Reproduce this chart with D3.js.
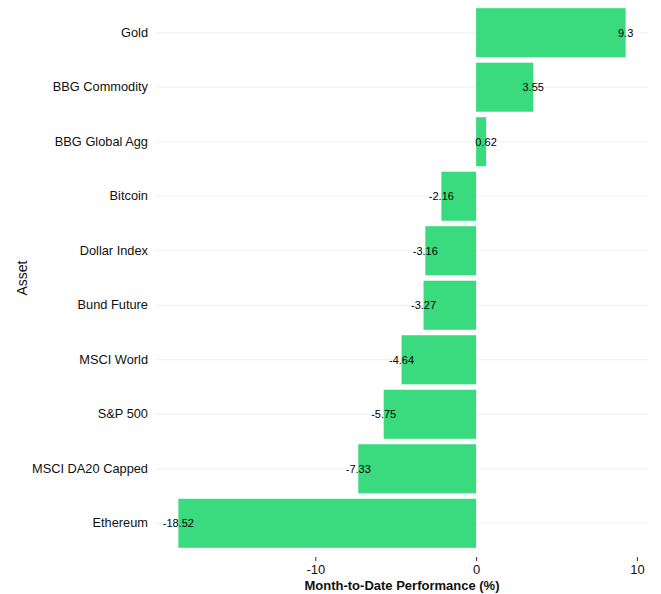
<!DOCTYPE html>
<html>
<head>
<meta charset="utf-8">
<script src="https://cdn.jsdelivr.net/npm/d3@7"></script>
<style>
  body { margin: 0; background: #fff; }
  text { font-family: "Liberation Sans", Arial, sans-serif; }
</style>
</head>
<body>
<div id="chart-area"></div>
<script>
const assets = ["Gold", "BBG Commodity", "BBG Global Agg", "Bitcoin", "Dollar Index", "Bund Future", "MSCI World", "S&P 500", "MSCI DA20 Capped", "Ethereum"],
  performance = [9.3, 3.55, 0.62, -2.16, -3.16, -3.27, -4.64, -5.75, -7.33, -18.52],
  xTicks = [-10, 0, 10];

const margin = { left: 156, right: 13, top: 0, bottom: 38 },
  width = 661 - margin.left - margin.right,
  height = 594 - margin.top - margin.bottom;

const svg = d3
  .select("#chart-area")
  .append("svg")
  .attr("width", 661)
  .attr("height", 594);

const g = svg.append("g").attr("transform", "translate(" + margin.left + ", " + margin.top + ")");

const data = assets.map((a, i) => ({ asset: a, value: performance[i] }));

//x scale, with 5% expansion like ggplot
const ext = d3.extent(performance);
const pad = (ext[1] - ext[0]) * 0.05;
const x = d3
  .scaleLinear()
  .domain([ext[0] - pad, ext[1] + pad])
  .range([0, width]);

//y scale (0.6 band expansion each side)
const y = d3
  .scaleBand()
  .domain(assets)
  .range([0, height])
  .paddingInner(0.1)
  .paddingOuter(0.15);

//gridlines at category centres
g.selectAll(".grid")
  .data(assets)
  .enter()
  .append("line")
  .attr("x1", 0)
  .attr("x2", width)
  .attr("y1", d => y(d) + y.bandwidth() / 2)
  .attr("y2", d => y(d) + y.bandwidth() / 2)
  .attr("stroke", "#ebebeb")
  .attr("stroke-width", 0.8);

//bars
g.selectAll("rect")
  .data(data)
  .enter()
  .append("rect")
  .attr("x", d => x(Math.min(0, d.value)))
  .attr("y", d => y(d.asset))
  .attr("width", d => Math.abs(x(d.value) - x(0)))
  .attr("height", y.bandwidth())
  .attr("fill", "#3ADB7F");

//value labels
g.selectAll(".val")
  .data(data)
  .enter()
  .append("text")
  .attr("x", d => x(d.value))
  .attr("y", d => y(d.asset) + y.bandwidth() / 2)
  .attr("dy", "0.35em")
  .attr("text-anchor", "middle")
  .style("font-size", "11px")
  .attr("fill", "#000")
  .text(d => d.value);

//x axis
const xAxis = g.append("g")
  .attr("transform", "translate(0," + (height + 1) + ")")
  .call(d3.axisBottom(x).tickValues(xTicks).tickSize(4).tickPadding(4).tickFormat(d => String(d)));
xAxis.select(".domain").remove();
xAxis.selectAll("line").attr("stroke", "#333");
xAxis.selectAll("text").style("font-size", "13px").attr("fill", "#111");

//y axis labels
const yAxis = g.append("g")
  .call(d3.axisLeft(y).tickSize(0).tickPadding(8));
yAxis.select(".domain").remove();
yAxis.selectAll("text").style("font-size", "12.8px").attr("fill", "#111");

//axis titles
svg.append("text")
  .attr("x", margin.left + width / 2)
  .attr("y", 590)
  .attr("text-anchor", "middle")
  .style("font-size", "13px")
  .style("font-weight", "bold")
  .attr("fill", "#111")
  .text("Month-to-Date Performance (%)");

svg.append("text")
  .attr("transform", "translate(27," + (margin.top + height / 2) + ") rotate(-90)")
  .attr("text-anchor", "middle")
  .style("font-size", "14px")
  .attr("fill", "#111")
  .text("Asset");
</script>
</body>
</html>
